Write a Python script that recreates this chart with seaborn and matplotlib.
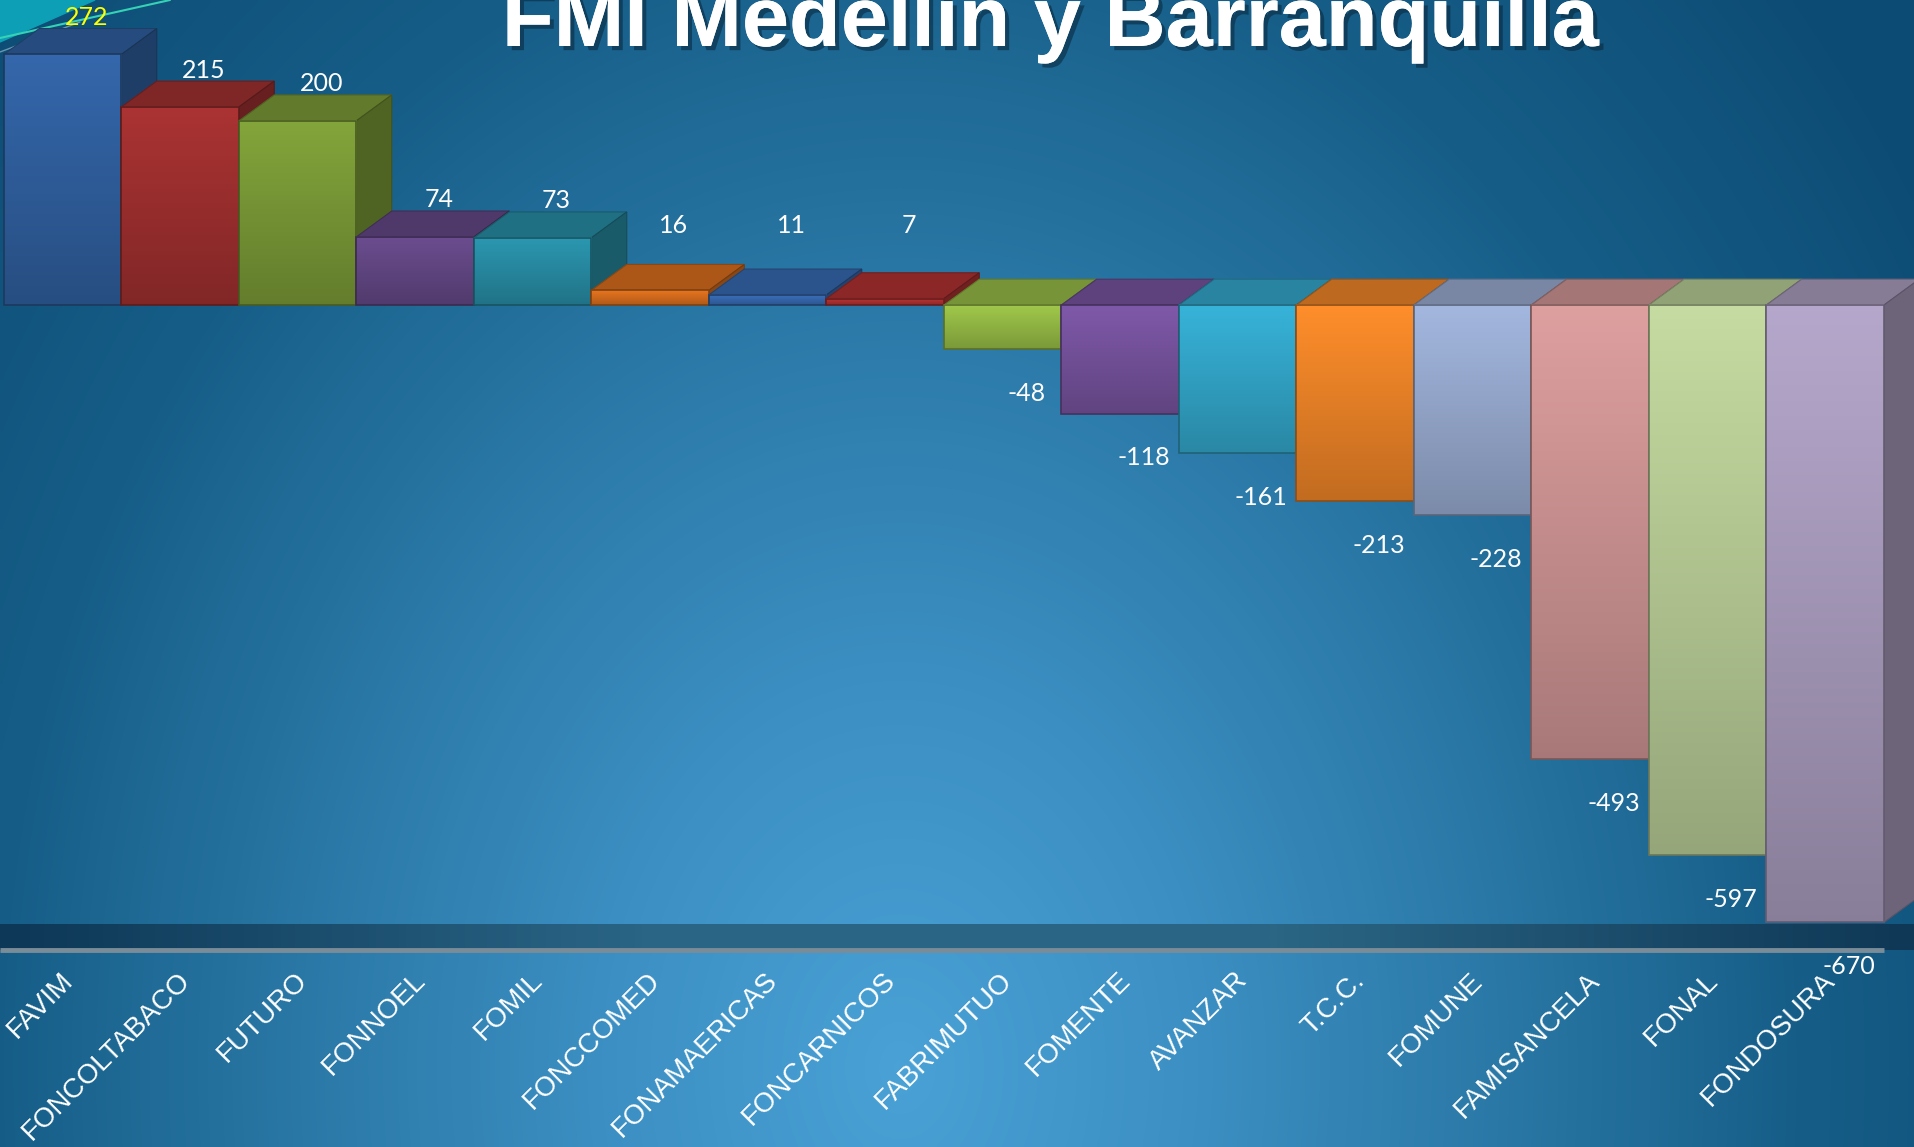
import numpy as np
import seaborn as sns
import matplotlib.pyplot as plt
import matplotlib.patheffects as pe
from matplotlib.colors import LinearSegmentedColormap, to_rgb
from matplotlib.patches import Polygon

# data
categories = ["FAVIM", "FONCOLTABACO", "FUTURO", "FONNOEL", "FOMIL", "FONCCOMED",
              "FONAMAERICAS", "FONCARNICOS", "FABRIMUTUO", "FOMENTE", "AVANZAR",
              "T.C.C.", "FOMUNE", "FAMISANCELA", "FONAL", "FONDOSURA"]
values = [272, 215, 200, 74, 73, 16, 11, 7, -48, -118, -161, -213, -228, -493, -597, -670]
bar_colors = ["#3467ab", "#ab3333", "#83a53b", "#6b4d8f", "#2b97b1", "#e8761f",
              "#3b71bd", "#bd3535", "#a1c94b", "#7f59a9", "#37b3d9", "#ff8e2b",
              "#a3b7df", "#de9f9f", "#c5dba1", "#b5a7cb"]
label_colors = ["#ffff00"] + ["white"] * 15
title = "FMI Medellín y Barranquilla"

W, H = 1915, 1147
DEPTH_X = 0.30   # 3d depth, in category units
DEPTH_Y = 28.0   # 3d depth, in value units
Y_MIN, Y_MAX = -700, 331


def shade(c, f):
    r, g, b = to_rgb(c)
    return (r * f, g * f, b * f)


sns.set_style("white")
plt.rcParams["font.family"] = ["Liberation Sans", "DejaVu Sans"]

fig = plt.figure(figsize=(W / 100, H / 100), dpi=100)

# slide background: elliptical blue gradient
bg = fig.add_axes([0, 0, 1, 1], zorder=-5)
gx, gy = np.meshgrid(np.linspace(0, W, 384), np.linspace(0, H, 230))
r = np.sqrt(((gx - 900) / 1000) ** 2 + ((gy - 1070) / 1300) ** 2)
bg_cmap = LinearSegmentedColormap.from_list(
    "bg", [(0, "#49a1d5"), (0.25, "#3b8ec1"), (0.48, "#2a78a6"),
           (0.72, "#165e88"), (1.0, "#0c4b73")])
bg.imshow(np.clip(r / 1.25, 0, 1), cmap=bg_cmap, aspect="auto",
          extent=[0, W, H, 0], interpolation="bilinear")
bg.add_patch(Polygon([(0, 0), (95, 0), (0, 42)], closed=True,
                     color="#0c9fb6", zorder=3))
bg.plot([0, 170], [38, 0], color="#36d2b5", lw=1.5, zorder=4)
bg.plot([0, 80], [52, 22], color="#8fb6c9", lw=1.0, alpha=0.7, zorder=4)
bg.set_xlim(0, W)
bg.set_ylim(H, 0)
bg.axis("off")

ax = fig.add_axes([4 / W, (H - 950) / H, 1880 / W, 950 / H], zorder=1)
ax.patch.set_visible(False)

sns.barplot(x=categories, y=values, hue=categories, palette=bar_colors,
            width=1.0, saturation=1, legend=False, ax=ax)

bars = sorted(ax.patches, key=lambda p: p.get_x())

# floor of the 3d chart
fx0, fx1 = -0.534, 15.5
floor = Polygon([(fx0, Y_MIN), (fx1, Y_MIN), (fx1 + DEPTH_X, Y_MIN + DEPTH_Y),
                 (fx0 + DEPTH_X, Y_MIN + DEPTH_Y)], closed=True,
                facecolor="none", edgecolor="none", clip_on=False)
ax.add_patch(floor)
floor_cmap = LinearSegmentedColormap.from_list(
    "floor", ["#0e3857", "#2a6586", "#2b6685", "#0f3856"])
im = ax.imshow(np.linspace(0, 1, 64).reshape(1, -1), cmap=floor_cmap,
               aspect="auto", extent=[fx0, fx1 + DEPTH_X, Y_MIN, Y_MIN + DEPTH_Y],
               interpolation="bilinear", zorder=2, clip_on=False)
im.set_clip_path(floor)
ax.plot([fx0, fx1], [Y_MIN, Y_MIN], color="#7a8c98", lw=3.5,
        solid_capstyle="butt", clip_on=False, zorder=3)

# 3d faces and gradient fronts
for i, (p, v, c) in enumerate(zip(bars, values, bar_colors)):
    x0 = p.get_x()
    x1 = x0 + p.get_width()
    yt, yb = max(0, v), min(0, v)
    z = 10 + 4 * i
    top = Polygon([(x0, yt), (x1, yt), (x1 + DEPTH_X, yt + DEPTH_Y),
                   (x0 + DEPTH_X, yt + DEPTH_Y)], closed=True,
                  facecolor=shade(c, 0.74), edgecolor=shade(c, 0.6), lw=0.8,
                  zorder=z, clip_on=False)
    side = Polygon([(x1, yb), (x1 + DEPTH_X, yb + DEPTH_Y),
                    (x1 + DEPTH_X, yt + DEPTH_Y), (x1, yt)], closed=True,
                   facecolor=shade(c, 0.6), edgecolor=shade(c, 0.5), lw=0.8,
                   zorder=z, clip_on=False)
    ax.add_patch(top)
    ax.add_patch(side)
    grad = LinearSegmentedColormap.from_list("g%d" % i, [c, shade(c, 0.76)])
    gim = ax.imshow(np.linspace(0, 1, 64).reshape(-1, 1), cmap=grad,
                    aspect="auto", extent=[x0, x1, yb, yt],
                    interpolation="bilinear", zorder=z + 1, clip_on=False)
    gim.set_clip_path(p)
    p.set_facecolor("none")
    p.set_edgecolor(shade(c, 0.55))
    p.set_linewidth(1.2)
    p.set_zorder(z + 2)
    p.set_clip_on(False)

# value labels (PowerPoint keeps small positive labels at a minimum height)
for i, (v, lc) in enumerate(zip(values, label_colors)):
    y = max(v + 40, 86) if v > 0 else v - 48
    ax.text(i + 0.2, y, f"{v}", ha="center", va="center", color=lc,
            fontsize=18, family=["Lato", "DejaVu Sans"], zorder=100,
            clip_on=False)

# rotated category labels under the floor
for i, name in enumerate(categories):
    ax.text(i + 0.05, Y_MIN - 29, name, rotation=45, rotation_mode="anchor",
            ha="right", va="center", color="white", fontsize=20,
            zorder=100, clip_on=False)

ax.set_xlim(-0.5, 15.5)
ax.set_ylim(Y_MIN, Y_MAX)
ax.set_xticks([])
ax.set_yticks([])
ax.set_xlabel("")
ax.set_ylabel("")
sns.despine(ax=ax, left=True, bottom=True)

fig.text(1050 / W, 1 - 46 / H, title, ha="center", va="baseline",
         fontsize=61, fontweight="bold", color="white", zorder=50,
         path_effects=[pe.withSimplePatchShadow(offset=(3, -3), alpha=0.6,
                                                shadow_rgbFace="#0a2a40"),
                       pe.Normal()])

fig.savefig("out.png", dpi=100)
